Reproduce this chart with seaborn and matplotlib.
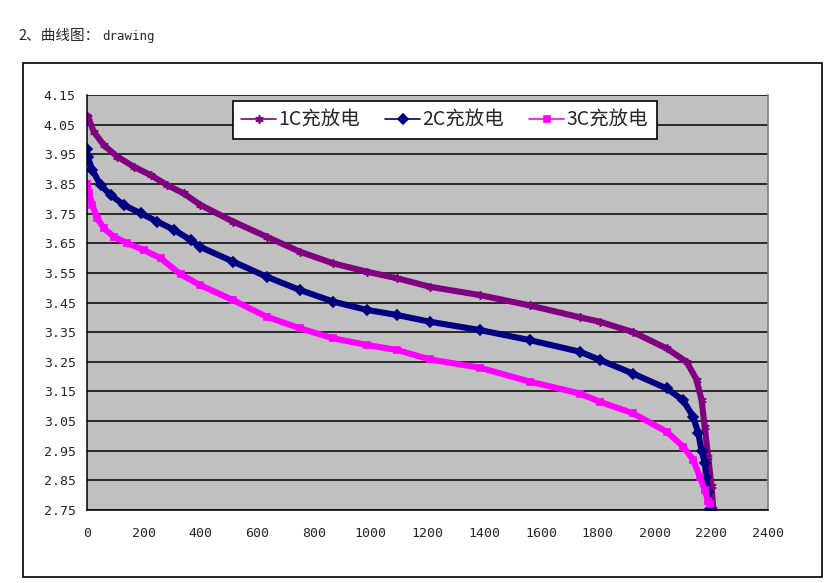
import matplotlib.pyplot as plt
import pandas as pd
import seaborn as sns
from matplotlib.patches import Rectangle

# 读图得到的放电曲线数据（容量 mAh, 电压 V）
x_1c = [0, 3, 24, 60, 107, 165, 224, 283, 341, 400, 515, 633, 751, 868, 986, 1092, 1209,
        1385, 1561, 1737, 1808, 1925, 2043, 2113, 2148, 2166, 2177, 2189, 2201, 2207]
y_1c = [4.08, 4.077, 4.026, 3.98, 3.942, 3.908, 3.88, 3.846, 3.818, 3.779, 3.723, 3.672, 3.621, 3.582,
        3.554, 3.532, 3.503, 3.475, 3.44, 3.40, 3.385, 3.35, 3.295, 3.25, 3.19, 3.12, 3.03, 2.93, 2.83, 2.755]

x_2c = [0, 2, 19, 48, 83, 130, 189, 248, 307, 365, 398, 515, 633, 751, 868, 986, 1092, 1209,
        1385, 1561, 1737, 1808, 1925, 2043, 2101, 2136, 2154, 2166, 2177, 2183, 2188, 2196]
y_2c = [3.968, 3.942, 3.897, 3.846, 3.813, 3.779, 3.751, 3.723, 3.695, 3.661, 3.638, 3.588, 3.537,
        3.492, 3.453, 3.425, 3.408, 3.385, 3.357, 3.323, 3.284, 3.256, 3.21, 3.16, 3.12, 3.065, 3.01,
        2.95, 2.91, 2.86, 2.81, 2.755]

x_3c = [0, 7, 19, 36, 60, 95, 142, 201, 260, 330, 398, 515, 633, 751, 868, 986, 1092, 1209,
        1385, 1561, 1737, 1808, 1925, 2043, 2101, 2136, 2160, 2177, 2189, 2196]
y_3c = [3.85, 3.818, 3.779, 3.734, 3.70, 3.672, 3.65, 3.627, 3.599, 3.545, 3.509, 3.458, 3.402,
        3.363, 3.329, 3.307, 3.29, 3.258, 3.23, 3.183, 3.143, 3.115, 3.076, 3.014, 2.964, 2.92,
        2.862, 2.817, 2.78, 2.77]

labels = ["1C充放电", "2C充放电", "3C充放电"]
x_ticks = list(range(0, 2401, 200))
y_ticks = [2.75, 2.85, 2.95, 3.05, 3.15, 3.25, 3.35, 3.45, 3.55, 3.65, 3.75, 3.85, 3.95, 4.05, 4.15]

sns.set_theme(style="white")
plt.rcParams["font.family"] = ["Noto Sans CJK SC", "DejaVu Sans"]

fig = plt.figure(figsize=(8.38, 5.83), dpi=100)
ax = fig.add_axes([0.1038, 0.1252, 0.8127, 0.7118])
ax.set_facecolor("#C0C0C0")

series = [
    (x_1c, y_1c, "#800080", (6, 2, 0), 6),
    (x_2c, y_2c, "#000080", "D", 5),
    (x_3c, y_3c, "#FF00FF", "s", 5),
]
for (xs, ys, color, marker, ms), label in zip(series, labels):
    df = pd.DataFrame({"x": xs, "y": ys})
    sns.lineplot(data=df, x="x", y="y", sort=False, color=color, linewidth=4.4,
                 marker=marker, markersize=ms, markeredgecolor=color,
                 markeredgewidth=1.2, label=label, ax=ax)

ax.set_xlim(0, 2400)
ax.set_ylim(2.75, 4.15)
ax.set_xticks(x_ticks)
ax.set_yticks(y_ticks)
ax.set_yticklabels([f"{t:.2f}" for t in y_ticks])
ax.set_xlabel("")
ax.set_ylabel("")
ax.yaxis.grid(True, color="black", linewidth=1.1)
ax.xaxis.grid(False)
ax.tick_params(axis="x", direction="in", length=4, color="black", labelsize=9.5, pad=12)
ax.tick_params(axis="y", direction="out", length=4, color="black", labelsize=9.5, pad=4)
for lab in ax.get_xticklabels() + ax.get_yticklabels():
    lab.set_family("DejaVu Sans Mono")
for side in ["left", "bottom"]:
    ax.spines[side].set_color("black")
    ax.spines[side].set_linewidth(1.1)
ax.spines["top"].set_visible(False)
ax.spines["right"].set_color("#808080")

leg = ax.legend(loc="upper left", bbox_to_anchor=(0.214, 0.986), ncol=3, fontsize=14,
                frameon=True, fancybox=False, framealpha=1, edgecolor="black",
                handlelength=1.8, handletextpad=0.1, columnspacing=1.3,
                borderpad=0.45, borderaxespad=0, markerscale=1.0)
leg.get_frame().set_linewidth(1.2)
for line in leg.get_lines():
    line.set_linewidth(1.2)

fig.patches.append(Rectangle((0.0274, 0.0103), 0.9535, 0.8816, transform=fig.transFigure,
                             fill=False, edgecolor="black", linewidth=1.2))
fig.text(0.0215, 0.938, "2、曲线图：", fontsize=10.5, va="center", ha="left")
fig.text(0.1225, 0.938, "drawing", fontsize=9, family="DejaVu Sans Mono",
         va="center", ha="left")

fig.savefig("out.png", dpi=100)
